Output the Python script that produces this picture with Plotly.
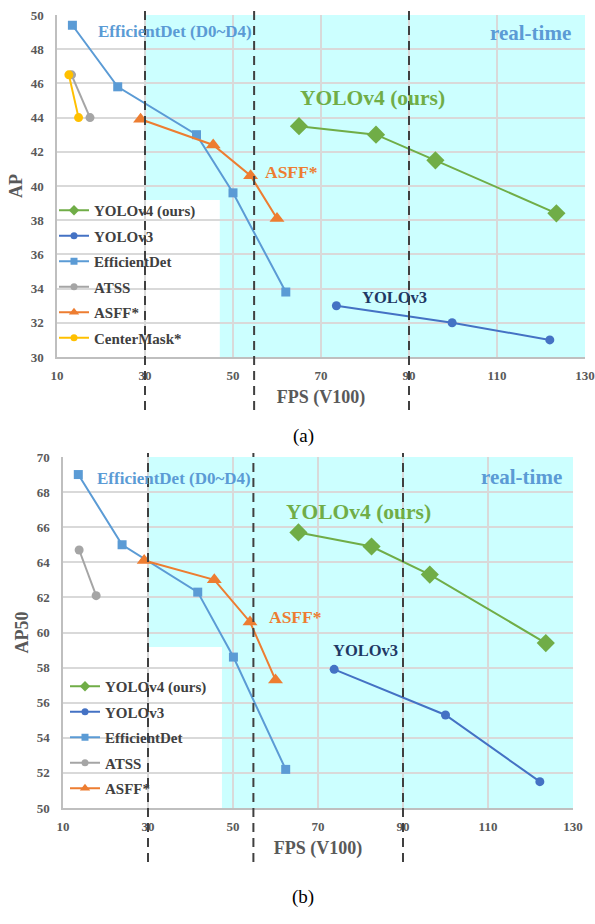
import plotly.graph_objects as go

# ---------------- data (a) AP ----------------
yolov4_fps_a = [65.0, 82.5, 96.0, 123.5]
yolov4_ap_a = [43.5, 43.0, 41.5, 38.4]
yolov3_fps_a = [73.5, 99.8, 122.0]
yolov3_ap_a = [33.0, 32.0, 31.0]
effdet_fps_a = [13.5, 23.8, 41.7, 50.0, 62.0]
effdet_ap_a = [49.4, 45.8, 43.0, 39.6, 33.8]
atss_fps_a = [13.3, 17.5]
atss_ap_a = [46.5, 44.0]
asff_fps_a = [29.0, 45.5, 54.0, 60.0]
asff_ap_a = [43.9, 42.4, 40.6, 38.1]
cm_fps_a = [12.7, 14.9]
cm_ap_a = [46.5, 44.0]

# ---------------- data (b) AP50 ----------------
yolov4_fps_b = [65.4, 82.6, 96.3, 123.6]
yolov4_ap_b = [65.7, 64.9, 63.3, 59.4]
yolov3_fps_b = [73.8, 100.0, 122.2]
yolov3_ap_b = [57.9, 55.3, 51.5]
effdet_fps_b = [13.6, 23.9, 41.7, 50.1, 62.4]
effdet_ap_b = [69.0, 65.0, 62.3, 58.6, 52.2]
atss_fps_b = [13.8, 17.8]
atss_ap_b = [64.7, 62.1]
asff_fps_b = [29.1, 45.6, 54.0, 60.0]
asff_ap_b = [64.1, 63.0, 60.6, 57.3]

x_ticks = [10, 30, 50, 70, 90, 110, 130]
realtime_lines = [30, 54.8, 90]

C_V4 = "#70AD47"
C_V3 = "#4472C4"
C_ED = "#5B9BD5"
C_AT = "#A5A5A5"
C_AS = "#ED7D31"
C_CM = "#FFC000"
CYAN = "#CCFFFF"
SERIF = "Liberation Serif"
GRID = "#D9D9D9"
TXT = "#595959"

W, H = 595, 924
def py(p):  # pixel y -> paper
    return 1 - p / H
def px(p):
    return p / W

fig = go.Figure()

def add(xs, ys, name, color, symbol, size, lsize, xa, ya, legend, show=True):
    fig.add_trace(go.Scatter(
        x=xs, y=ys, name=name, mode="lines+markers",
        line=dict(color=color, width=2),
        marker=dict(color=color, symbol=symbol, size=size),
        xaxis=xa, yaxis=ya, showlegend=False, hoverinfo="x+y+name"))
    if show:
        # legend entry (small Excel-like symbol)
        fig.add_trace(go.Scatter(
            x=[None], y=[None], name=name, mode="lines+markers",
            line=dict(color=color, width=2),
            marker=dict(color=color, symbol=symbol, size=lsize),
            xaxis=xa, yaxis=ya, legend=legend, legendgroup=legend + name, showlegend=True))

# top
add(yolov4_fps_a, yolov4_ap_a, "YOLOv4 (ours)", C_V4, "diamond", 14, 8, "x", "y", "legend")
add(yolov3_fps_a, yolov3_ap_a, "YOLOv3", C_V3, "circle", 9, 7, "x", "y", "legend")
add(effdet_fps_a, effdet_ap_a, "EfficientDet", C_ED, "square", 9, 7, "x", "y", "legend")
add(atss_fps_a, atss_ap_a, "ATSS", C_AT, "circle", 9, 7, "x", "y", "legend")
add(asff_fps_a, asff_ap_a, "ASFF*", C_AS, "triangle-up", 13, 9, "x", "y", "legend")
add(cm_fps_a, cm_ap_a, "CenterMask*", C_CM, "circle", 9, 7, "x", "y", "legend")
# bottom
add(yolov4_fps_b, yolov4_ap_b, "YOLOv4 (ours)", C_V4, "diamond", 14, 8, "x2", "y2", "legend2")
add(yolov3_fps_b, yolov3_ap_b, "YOLOv3", C_V3, "circle", 9, 7, "x2", "y2", "legend2")
add(effdet_fps_b, effdet_ap_b, "EfficientDet", C_ED, "square", 9, 7, "x2", "y2", "legend2")
add(atss_fps_b, atss_ap_b, "ATSS", C_AT, "circle", 9, 7, "x2", "y2", "legend2")
add(asff_fps_b, asff_ap_b, "ASFF*", C_AS, "triangle-up", 13, 9, "x2", "y2", "legend2")

tickfont = dict(family=SERIF, size=13, color=TXT, weight="bold")
titlefont = dict(family=SERIF, size=18, color=TXT, weight="bold")

def xax(domain, anchor):
    return dict(domain=domain, anchor=anchor, range=[10, 130], tickvals=x_ticks,
                showgrid=True, gridcolor=GRID, gridwidth=1.5, showline=True,
                linecolor="#BFBFBF", linewidth=1.5, zeroline=False, ticks="",
                automargin=False, ticklabelstandoff=6,
                tickfont=tickfont, title=dict(text="FPS (V100)", font=titlefont, standoff=8))

def yax(domain, anchor, rng, title):
    return dict(domain=domain, anchor=anchor, range=rng, dtick=2,
                showgrid=True, gridcolor=GRID, gridwidth=1.5, showline=True,
                linecolor="#BFBFBF", linewidth=1.5, zeroline=False, ticks="",
                automargin=False, ticklabelstandoff=9,
                tickfont=tickfont, title=dict(text=title, font=titlefont, standoff=3))

shapes = []
for xref, yref, x0, ysplit, yr in [("x", "y", 47.0, 39.18, (30, 50)), ("x2", "y2", 47.4, 59.17, (50, 70))]:
    shapes.append(dict(type="rect", xref=xref, yref=yref, x0=30, x1=130, y0=ysplit, y1=yr[1],
                       fillcolor=CYAN, line=dict(width=0), layer="below"))
    shapes.append(dict(type="rect", xref=xref, yref=yref, x0=x0, x1=130, y0=yr[0], y1=ysplit,
                       fillcolor=CYAN, line=dict(width=0), layer="below"))
for xv in realtime_lines:
    shapes.append(dict(type="line", xref="x", yref="paper", x0=xv, x1=xv, y0=py(410), y1=py(10),
                       line=dict(color="#404040", width=2, dash="9px,6px"), layer="above"))
    shapes.append(dict(type="line", xref="x2", yref="paper", x0=xv, x1=xv, y0=py(862), y1=py(453),
                       line=dict(color="#404040", width=2, dash="9px,6px"), layer="above"))

def ann(x, y, text, color, size, xref, yref):
    return dict(x=x, y=y, xref=xref, yref=yref, text=text, showarrow=False,
                font=dict(family=SERIF, size=size, color=color, weight="bold"))

annotations = [
    ann(36.8, 49.02, "EfficientDet (D0~D4)", C_ED, 17, "x", "y"),
    ann(117.7, 48.93, "real-time", C_ED, 21, "x", "y"),
    ann(81.6, 45.13, "YOLOv4 (ours)", C_V4, 21.5, "x", "y"),
    ann(63.4, 40.84, "ASFF*", C_AS, 17.5, "x", "y"),
    ann(86.6, 33.5, "YOLOv3", "#1F3864", 16.5, "x", "y"),
    ann(36.0, 68.75, "EfficientDet (D0~D4)", C_ED, 17, "x2", "y2"),
    ann(117.8, 68.84, "real-time", C_ED, 21, "x2", "y2"),
    ann(79.6, 66.88, "YOLOv4 (ours)", C_V4, 21.5, "x2", "y2"),
    ann(64.8, 60.9, "ASFF*", C_AS, 17.5, "x2", "y2"),
    ann(81.1, 58.96, "YOLOv3", "#1F3864", 16.5, "x2", "y2"),
    dict(x=px(303), y=py(436), xref="paper", yref="paper", text="(a)", showarrow=False,
         font=dict(family=SERIF, size=19, color="#000000")),
    dict(x=px(303), y=py(910), xref="paper", yref="paper", text="(b)", showarrow=False,
         font=dict(family=SERIF, size=19, color="#000000")),
]

legfont = dict(family=SERIF, size=15, color="#404040", weight="bold")

fig.update_layout(
    width=W, height=H, autosize=False,
    margin=dict(l=0, r=0, t=0, b=0),
    paper_bgcolor="white", plot_bgcolor="white",
    xaxis=xax([px(57), px(585)], "y"),
    yaxis=yax([py(357), py(15)], "x", [30, 50], "AP"),
    xaxis2=xax([px(63), px(573)], "y2"),
    yaxis2=yax([py(808), py(457)], "x2", [50, 70], "AP50"),
    shapes=shapes, annotations=annotations,
    legend=dict(x=px(54), y=py(194), xanchor="left", yanchor="top", bgcolor="rgba(0,0,0,0)",
                font=legfont, traceorder="grouped", tracegroupgap=3),
    legend2=dict(x=px(65), y=py(670), xanchor="left", yanchor="top", bgcolor="rgba(0,0,0,0)",
                 font=legfont, traceorder="grouped", tracegroupgap=3),
)

fig.write_html("out.html", config={"displayModeBar": False},
               post_script="document.body.style.margin='0';document.body.style.overflow='hidden';")
